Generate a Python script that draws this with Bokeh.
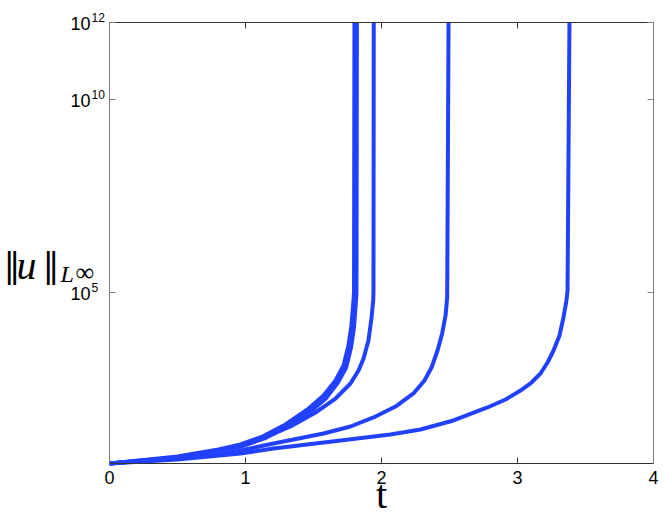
from bokeh.plotting import figure
from bokeh.models import Label, LinearAxis, LogAxis, FixedTicker, Range1d
from bokeh.embed import file_html
from bokeh.resources import INLINE
import math

# ---- data ----
t1 = [0, 0.500, 0.801, 0.963, 1.125, 1.294, 1.456, 1.574, 1.662, 1.721, 1.757, 1.779, 1.794, 1.798, 1.801]
y1 = [3.63, 5.52, 8.38, 11.3, 18.2, 37.3, 91.4, 211, 516, 1265, 4180, 13800, 61500, 99100, 1e12]

t2 = [0, 0.5, 0.801, 0.963, 1.14, 1.31, 1.471, 1.59, 1.68, 1.74, 1.776, 1.798, 1.812, 1.816, 1.819]
y2 = [3.63, 5.2, 7.89, 10.0, 16.2, 33.1, 76.4, 176, 458, 1125, 3700, 12500, 58000, 95000, 1e12]

t3 = [0, 0.5, 0.801, 0.963, 1.125, 1.331, 1.515, 1.662, 1.772, 1.831, 1.868, 1.904, 1.926, 1.939, 1.941, 1.943]
y3 = [3.63, 5.20, 7.89, 10.0, 16.2, 33.1, 76.4, 176, 432, 940, 1920, 5640, 21000, 61500, 99100, 1e12]

t4 = [0, 0.5, 0.801, 0.963, 1.206, 1.574, 1.772, 1.941, 2.103, 2.235, 2.316, 2.368, 2.412, 2.446, 2.471, 2.483, 2.493]
y4 = [3.63, 4.90, 6.22, 7.89, 12.0, 21.8, 33.1, 56.8, 109, 238, 516, 1125, 3100, 8570, 25100, 73500, 1e12]

t5 = [0, 0.5, 0.963, 1.206, 1.699, 2.066, 2.287, 2.529, 2.779, 2.912, 3.022, 3.103, 3.169, 3.221, 3.265, 3.309, 3.338, 3.360, 3.368, 3.382]
y5 = [3.63, 4.61, 6.61, 8.89, 14.4, 20.6, 27.7, 47.4, 103, 166, 284, 458, 785, 1515, 3100, 7600, 22300, 61500, 112000, 1e12]

curves = [(t1, y1), (t2, y2), (t3, y3), (t4, y4), (t5, y5)]

x_ticks = [0, 1, 2, 3, 4]
x_tick_labels = ["0", "1", "2", "3", "4"]
y_ticks = [1e5, 1e10, 1e12]
y_tick_exps = ["5", "10", "12"]

X_MIN, X_MAX = 0, 4
Y_MIN, Y_MAX = 3.63, 1e12

LINE_COLOR = "#2241ff"
DARK = "#333333"
GRAY = "#808080"

# ---- layout: the frame covers the whole canvas; the axes box is placed
# at pixel box (109..653, 22..463) by padding the view ranges ----
W, H = 664, 518
BOX_L, BOX_R, BOX_T, BOX_B = 109, 653, 22, 463
sx = (BOX_R - BOX_L) / (X_MAX - X_MIN)
xr = Range1d(X_MIN - BOX_L / sx, X_MAX + (W - BOX_R) / sx)
ly0, ly1 = math.log10(Y_MIN), math.log10(Y_MAX)
sy = (BOX_B - BOX_T) / (ly1 - ly0)
yr = Range1d(10 ** (ly0 - (H - BOX_B) / sy), 10 ** (ly1 + BOX_T / sy))

p = figure(width=W, height=H, x_range=xr, y_range=yr,
           y_axis_type="log", output_backend="svg", toolbar_location=None,
           x_axis_location=None, y_axis_location=None,
           min_border=0, min_border_left=0, min_border_right=0,
           min_border_top=0, min_border_bottom=0,
           background_fill_color="white", border_fill_color="white",
           outline_line_color=None)
p.xgrid.visible = False
p.ygrid.visible = False

for tt, yy in curves:
    p.line(tt, yy, line_width=4, line_color=LINE_COLOR, line_join="round")

common = dict(major_tick_in=6, major_tick_out=0, minor_tick_line_color=None)

# bottom axis
bottom = LinearAxis(ticker=FixedTicker(ticks=x_ticks), fixed_location=Y_MIN,
                    bounds=(X_MIN, X_MAX), axis_line_color=DARK,
                    major_tick_line_color=DARK,
                    major_label_overrides={t: s for t, s in zip(x_ticks, x_tick_labels)},
                    major_label_text_font="Liberation Sans",
                    major_label_text_font_size="18px",
                    major_label_text_color="black", major_label_standoff=7, **common)
p.add_layout(bottom, "below")

# top axis
top = LinearAxis(ticker=FixedTicker(ticks=x_ticks), fixed_location=Y_MAX,
                 bounds=(X_MIN, X_MAX), axis_line_color=DARK,
                 major_tick_line_color=DARK, major_label_text_font_size="1px",
                 major_label_text_color=None, major_label_standoff=0, **common)
p.add_layout(top, "above")

# left axis
left = LogAxis(ticker=FixedTicker(ticks=y_ticks), fixed_location=X_MIN,
               bounds=(Y_MIN, Y_MAX), axis_line_color=GRAY,
               major_tick_line_color=GRAY, major_label_text_font_size="1px",
               major_label_text_color=None, major_label_standoff=0, **common)
p.add_layout(left, "left")

# right axis
right = LogAxis(ticker=FixedTicker(ticks=y_ticks), fixed_location=X_MAX,
                bounds=(Y_MIN, Y_MAX), axis_line_color=GRAY,
                major_tick_line_color=GRAY, major_label_text_font_size="1px",
                major_label_text_color=None, major_label_standoff=0, **common)
p.add_layout(right, "right")

# y tick labels as 10^n
for yv, ex in zip(y_ticks, y_tick_exps):
    p.add_layout(Label(x=X_MIN, y=yv, x_offset=-19, y_offset=-1, text="10",
                       text_align="right", text_baseline="middle",
                       text_font="Liberation Sans", text_font_size="18px",
                       text_color="black"))
    p.add_layout(Label(x=X_MIN, y=yv, x_offset=-18, y_offset=5, text=ex,
                       text_align="left", text_baseline="alphabetic",
                       text_font="Liberation Sans", text_font_size="12px",
                       text_color="black"))

SHIFT = 12  # compensation for how the svg backend places the text baseline

# x axis label "t"
p.add_layout(Label(x=381, y=24, x_units="screen", y_units="screen", text="t",
                   text_align="center", text_baseline="alphabetic",
                   text_font="Liberation Serif", text_font_style="normal",
                   text_font_size="40px", text_color="black"))

# y axis label ||u||_{L^inf}
def add_txt(x, y_page, s, font, size, style="normal"):
    p.add_layout(Label(x=x, y=H - y_page + SHIFT, x_units="screen", y_units="screen",
                       text=s, text_align="left", text_baseline="alphabetic",
                       text_font=font, text_font_style=style,
                       text_font_size=size, text_color="black"))

add_txt(3, 276, "‖", "DejaVu Serif", "34px")
add_txt(16, 277, "u", "Liberation Serif", "40px", "italic")
add_txt(42, 276, "‖", "DejaVu Serif", "34px")
add_txt(60, 285, "L", "Liberation Serif", "24px", "italic")
add_txt(75, 284, "∞", "Liberation Serif", "26px")

open("out.html", "w").write(file_html(p, INLINE))
